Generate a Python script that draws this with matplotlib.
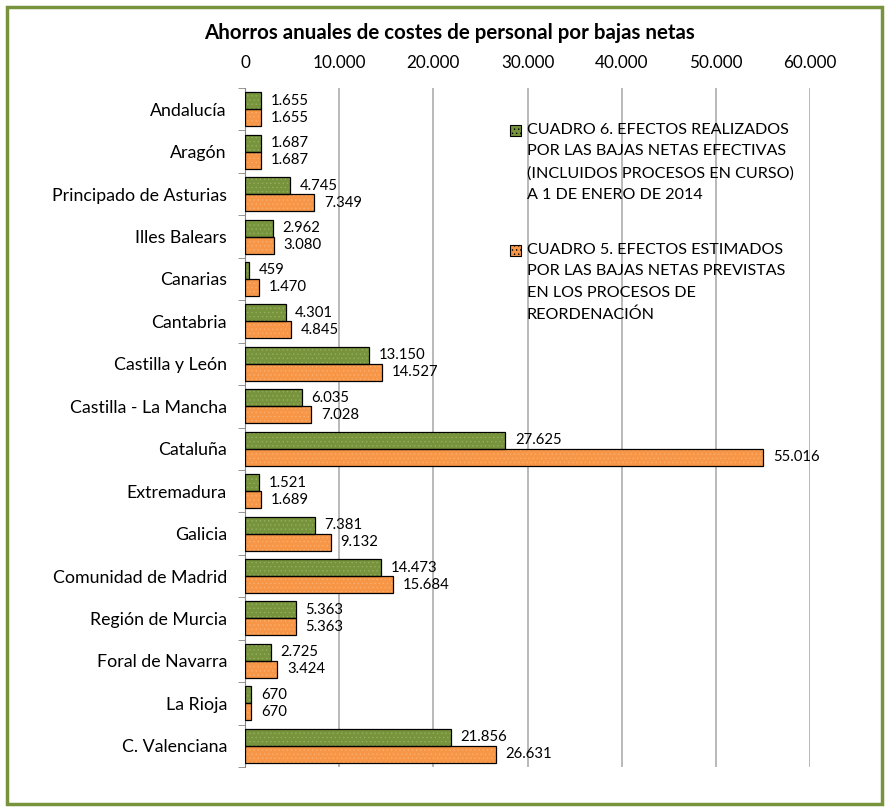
import matplotlib
matplotlib.use("Agg")
import matplotlib.pyplot as plt
from matplotlib.patches import Rectangle
import numpy as np

plt.rcParams['font.family'] = ['Lato', 'DejaVu Sans']
plt.rcParams['hatch.linewidth'] = 0.5

regiones = ['Andalucía', 'Aragón', 'Principado de Asturias', 'Illes Balears', 'Canarias',
            'Cantabria', 'Castilla y León', 'Castilla - La Mancha', 'Cataluña', 'Extremadura',
            'Galicia', 'Comunidad de Madrid', 'Región de Murcia', 'Foral de Navarra',
            'La Rioja', 'C. Valenciana']
realizados = [1655, 1687, 4745, 2962, 459, 4301, 13150, 6035, 27625, 1521,
              7381, 14473, 5363, 2725, 670, 21856]
estimados = [1655, 1687, 7349, 3080, 1470, 4845, 14527, 7028, 55016, 1689,
             9132, 15684, 5363, 3424, 670, 26631]
xticks = [0, 10000, 20000, 30000, 40000, 50000, 60000]

lbl_real = 'CUADRO 6. EFECTOS REALIZADOS\nPOR LAS BAJAS NETAS EFECTIVAS\n(INCLUIDOS PROCESOS EN CURSO)\nA 1 DE ENERO DE 2014'
lbl_est = 'CUADRO 5. EFECTOS ESTIMADOS\nPOR LAS BAJAS NETAS PREVISTAS\nEN LOS PROCESOS DE\nREORDENACIÓN'

verde = '#77933C'
naranja = '#F79646'


def fmt(v):
    return f"{v:,}".replace(",", ".")


fig = plt.figure(figsize=(8.85, 8.09), dpi=100)
ax = fig.add_axes([245 / 885, 1 - 767 / 809, 565 / 885, 679 / 809])

y = np.arange(len(regiones))
h = 0.4
# fill with dotted texture, then black outline on top
ax.barh(y - h / 2, realizados, height=h, color=verde, edgecolor='#93AF60', hatch='....', linewidth=0, zorder=3)
ax.barh(y + h / 2, estimados, height=h, color=naranja, edgecolor='#FAAE70', hatch='....', linewidth=0, zorder=3)
ax.barh(y - h / 2, realizados, height=h, fill=False, edgecolor='black', linewidth=0.9, zorder=4)
ax.barh(y + h / 2, estimados, height=h, fill=False, edgecolor='black', linewidth=0.9, zorder=4)

for i in range(len(regiones)):
    ax.annotate(fmt(realizados[i]), (realizados[i], y[i] - h / 2), xytext=(7, 0),
                textcoords='offset points', va='center', ha='left', fontsize=10.7)
    ax.annotate(fmt(estimados[i]), (estimados[i], y[i] + h / 2), xytext=(7, 0),
                textcoords='offset points', va='center', ha='left', fontsize=10.7)

ax.set_xlim(0, 60000)
ax.set_ylim(len(regiones) - 0.5, -0.5)
ax.set_xticks(xticks)
ax.set_xticklabels([fmt(t) for t in xticks], fontsize=12.3)
ax.xaxis.tick_top()
ax.tick_params(axis='x', length=0, pad=12)
ax.set_yticks(y)
ax.set_yticklabels(regiones, fontsize=12.8)
ax.tick_params(axis='y', which='major', length=0, pad=13)
ax.set_yticks(np.arange(-0.5, len(regiones)), minor=True)
ax.tick_params(axis='y', which='minor', length=5, color='#868686', direction='out')
ax.grid(axis='x', color='#A6A6A6', linewidth=1.1, zorder=0)
ax.set_axisbelow(True)
for s in ['top', 'right', 'bottom']:
    ax.spines[s].set_visible(False)
ax.spines['left'].set_color('#868686')

fig.text(449 / 885, 1 - 33 / 809, 'Ahorros anuales de costes de personal por bajas netas',
         ha='center', va='center', fontsize=14.8, fontweight='bold')

# legend
for (lbl, col, ytop) in [(lbl_real, verde, 131), (lbl_est, naranja, 251)]:
    fig.patches.append(Rectangle((510 / 885, 1 - (ytop + 5) / 809), 11 / 885, 11 / 809,
                                 transform=fig.transFigure, facecolor=col, edgecolor='black',
                                 linewidth=0.8, hatch='....'))
    fig.text(527 / 885, 1 - (ytop - 8) / 809, lbl, ha='left', va='top', fontsize=11.6,
             linespacing=1.68)

# outer border
fig.patches.append(Rectangle((7 / 885, 5 / 809), 875 / 885, 797 / 809, transform=fig.transFigure,
                             fill=False, edgecolor='#77933C', linewidth=2.5))

fig.savefig('out.png', dpi=100)
